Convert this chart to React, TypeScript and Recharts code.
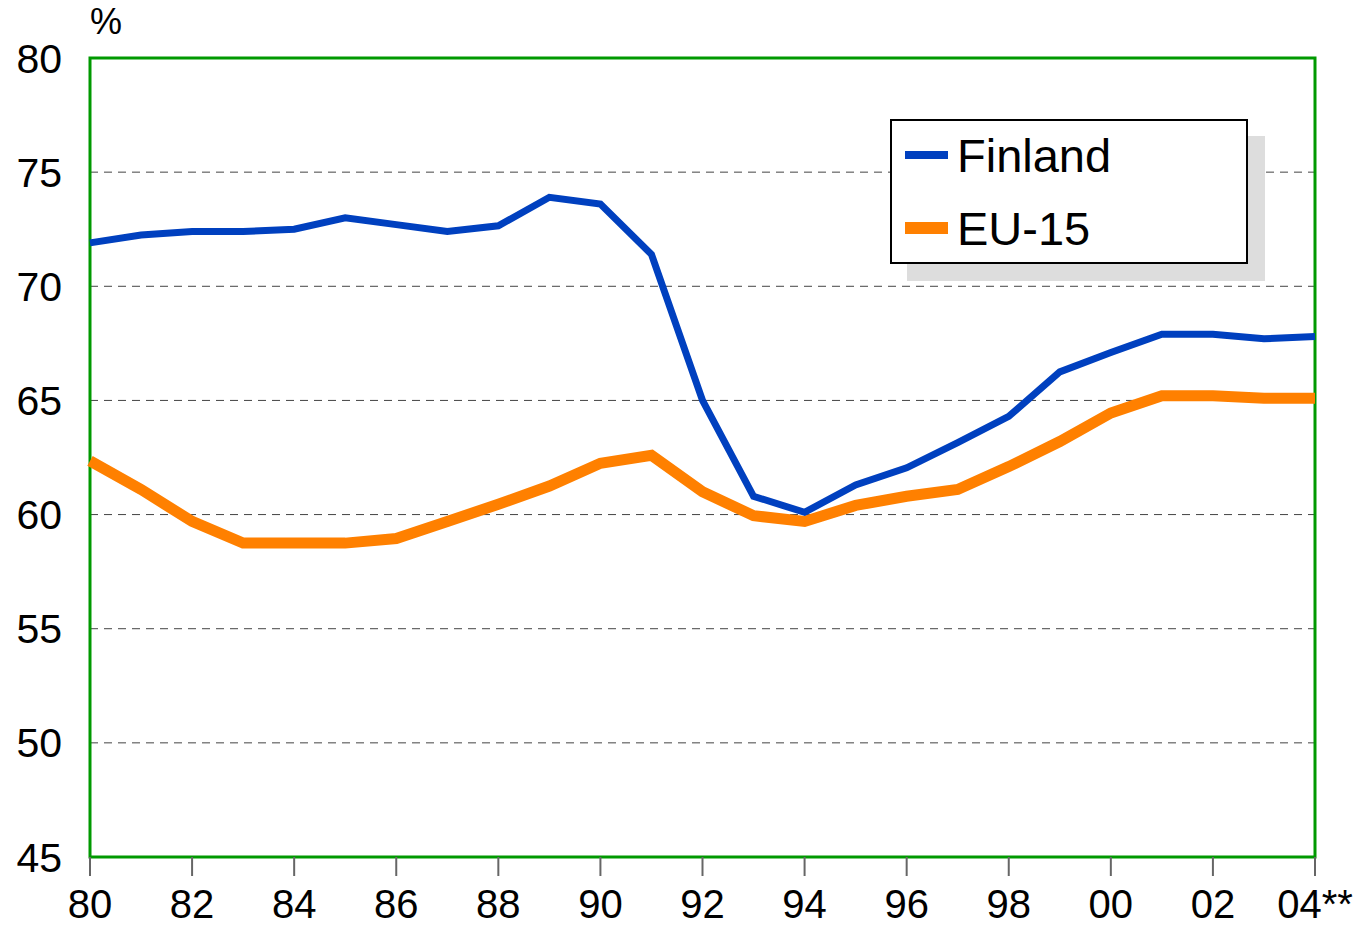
import React from "react";
import {
  LineChart,
  Line,
  XAxis,
  YAxis,
  CartesianGrid,
  ReferenceArea,
  Legend,
} from "recharts";

// x categories (years 1980-2004), last one is preliminary
const years = [
  "80", "81", "82", "83", "84", "85", "86", "87", "88", "89",
  "90", "91", "92", "93", "94", "95", "96", "97", "98", "99",
  "00", "01", "02", "03", "04**",
];

// employment rate, %
const finland = [
  71.9, 72.25, 72.4, 72.4, 72.5, 73.0, 72.7, 72.4, 72.65, 73.9,
  73.6, 71.4, 65.0, 60.8, 60.1, 61.3, 62.05, 63.15, 64.3, 66.25,
  67.1, 67.9, 67.9, 67.7, 67.8,
];
const eu15 = [
  62.35, 61.1, 59.7, 58.75, 58.75, 58.75, 58.95, 59.7, 60.45, 61.25,
  62.25, 62.6, 61.0, 59.95, 59.7, 60.4, 60.8, 61.1, 62.1, 63.2,
  64.45, 65.2, 65.2, 65.1, 65.1,
];

const yTicks = [45, 50, 55, 60, 65, 70, 75, 80];

const seriesInfo = [
  { key: "finland", name: "Finland", color: "#0040BF", width: 7 },
  { key: "eu15", name: "EU-15", color: "#FF8000", width: 11 },
];

const data = years.map((y, i) => ({ year: y, finland: finland[i], eu15: eu15[i] }));

const FONT = '"Liberation Sans", Arial, Helvetica, sans-serif';

const LegendBox = () => (
  <div
    style={{
      position: "relative",
      width: 354,
      height: 141,
      border: "2px solid #000",
      background: "#fff",
      boxShadow: "17px 17px 0 #dddddd",
      fontFamily: FONT,
    }}
  >
    {seriesInfo.map((s, i) => (
      <div
        key={s.key}
        style={{
          position: "absolute",
          left: 13,
          top: 34 + i * 73 - 30,
          height: 60,
          display: "flex",
          alignItems: "center",
        }}
      >
        <div style={{ width: 43, height: s.key === "finland" ? 8 : 12, background: s.color }} />
        <span style={{ marginLeft: 9, fontSize: 47, color: "#000", lineHeight: 1 }}>{s.name}</span>
      </div>
    ))}
  </div>
);

export default function App() {
  return (
    <div
      style={{
        position: "absolute",
        left: 0,
        top: 0,
        width: 1359,
        height: 929,
        background: "#fff",
        fontFamily: FONT,
      }}
    >
      <div style={{ position: "absolute", left: 90, top: 1, fontSize: 36, color: "#000" }}>%</div>
      <LineChart
        width={1359}
        height={929}
        data={data}
        margin={{ top: 58, right: 44, bottom: 0, left: 0 }}
      >
        <CartesianGrid
          vertical={false}
          stroke="#444"
          strokeDasharray="8 6"
        />
        <XAxis
          dataKey="year"
          interval={1}
          height={72}
          axisLine={false}
          tickSize={19}
          tickMargin={14}
          tickLine={{ stroke: "#666", strokeWidth: 2 }}
          tick={{ fill: "#000", fontSize: 40, fontFamily: FONT }}
        />
        <YAxis
          domain={[45, 80]}
          ticks={yTicks}
          width={90}
          axisLine={false}
          tickLine={false}
          tickSize={0}
          tickMargin={28}
          tick={{ fill: "#000", fontSize: 41, fontFamily: FONT }}
        />
        <Line
          type="linear"
          dataKey="eu15"
          name="EU-15"
          stroke="#FF8000"
          strokeWidth={11}
          dot={false}
          isAnimationActive={false}
        />
        <Line
          type="linear"
          dataKey="finland"
          name="Finland"
          stroke="#0040BF"
          strokeWidth={7}
          dot={false}
          isAnimationActive={false}
        />
        <ReferenceArea
          x1="80"
          x2="04**"
          y1={45}
          y2={80}
          fill="none"
          fillOpacity={0}
          stroke="#009900"
          strokeWidth={3}
          ifOverflow="visible"
        />
        <Legend
          layout="vertical"
          align="center"
          verticalAlign="middle"
          content={() => <LegendBox />}
          wrapperStyle={{ left: 890, top: 119, width: 358, height: 145 }}
        />
      </LineChart>
    </div>
  );
}
